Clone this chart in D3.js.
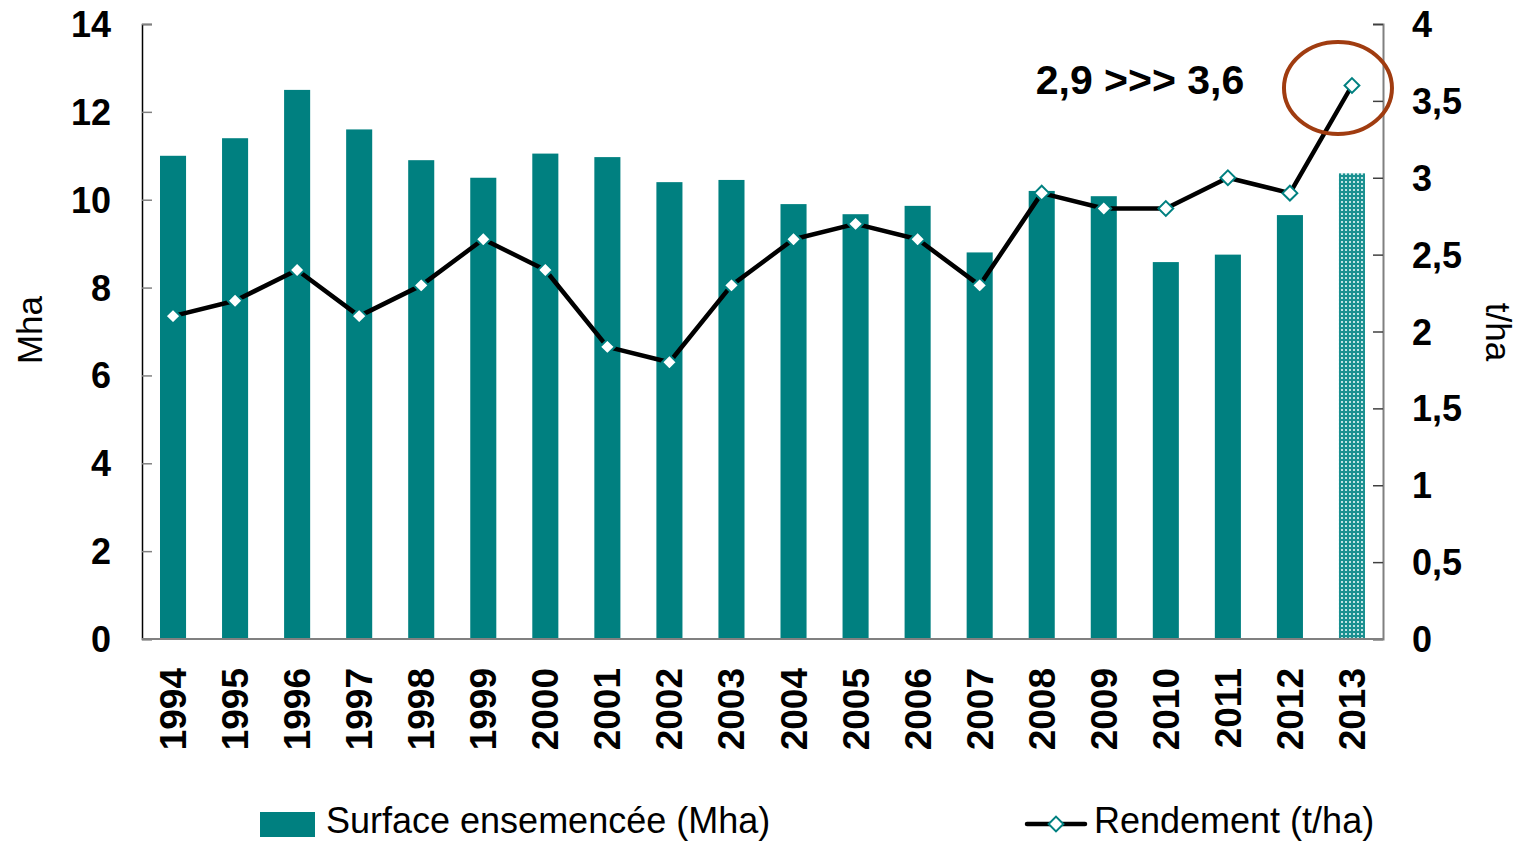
<!DOCTYPE html>
<html lang="fr">
<head>
<meta charset="UTF-8">
<title>Surface et rendement</title>
<script src="https://cdn.jsdelivr.net/npm/d3@7"></script>
<style>
  body { margin: 0; background: #fff; }
  text { font-family: "Liberation Sans", Arial, sans-serif; }
</style>
</head>
<body>
<svg width="1519" height="842"></svg>
<script>
    const years = ["1994","1995","1996","1997","1998","1999","2000","2001","2002","2003",
                   "2004","2005","2006","2007","2008","2009","2010","2011","2012","2013"];
    const surface = [11.0, 11.4, 12.5, 11.6, 10.9, 10.5, 11.05, 10.97, 10.4, 10.45,
                     9.9, 9.67, 9.86, 8.8, 10.2, 10.08, 8.58, 8.75, 9.65, 10.6];
    const rendement = [2.1, 2.2, 2.4, 2.1, 2.3, 2.6, 2.4, 1.9, 1.8, 2.3,
                       2.6, 2.7, 2.6, 2.3, 2.9, 2.8, 2.8, 3.0, 2.9, 3.6];
    const leftTicks = [0, 2, 4, 6, 8, 10, 12, 14];
    const rightTicks = [0, 0.5, 1, 1.5, 2, 2.5, 3, 3.5, 4];
    const annotation = "2,9 >>> 3,6";

    const teal = "#008080";
    const svg = d3.select("svg");
    const plot = {left: 142, right: 1383, top: 24, bottom: 639};

    // hatched pattern for the 2013 estimate
    const defs = svg.append("defs");
    const pat = defs.append("pattern").attr("id", "dots")
        .attr("width", 4).attr("height", 4).attr("patternUnits", "userSpaceOnUse");
    pat.append("rect").attr("width", 4).attr("height", 4).attr("fill", "#1a9090");
    pat.append("rect").attr("x", 1).attr("y", 1).attr("width", 2).attr("height", 2).attr("fill", "#bfe3e3");

    const x = d3.scaleBand().domain(years).range([plot.left, plot.right]).paddingInner(0.58).paddingOuter(0.29);
    const yL = d3.scaleLinear().domain([0, 14]).range([plot.bottom, plot.top]);
    const yR = d3.scaleLinear().domain([0, 4]).range([plot.bottom, plot.top]);

    // bars
    svg.append("g").selectAll("rect")
        .data(years)
        .enter()
        .append("rect")
        .attr("x", d => x(d))
        .attr("width", x.bandwidth())
        .attr("y", (d, i) => yL(surface[i]))
        .attr("height", (d, i) => yL(0) - yL(surface[i]))
        .attr("fill", (d, i) => d === "2013" ? "url(#dots)" : teal);

    // left axis
    const fmt = d => String(d).replace(".", ",");
    const axL = svg.append("g").attr("transform", `translate(${plot.left},0)`)
        .call(d3.axisRight(yL).tickValues(leftTicks).tickSize(10).tickFormat(""));
    axL.select(".domain").attr("stroke", "#000").attr("stroke-width", 1.5);
    axL.selectAll(".tick line").attr("stroke", "#808080").attr("stroke-width", 1.5);
    svg.append("g").selectAll("text").data(leftTicks).enter().append("text")
        .attr("x", 111).attr("y", d => yL(d) + 13)
        .attr("text-anchor", "end").attr("font-size", 36).attr("font-weight", "bold")
        .text(fmt);

    // right axis
    const axR = svg.append("g").attr("transform", `translate(${plot.right},0)`)
        .call(d3.axisLeft(yR).tickValues(rightTicks).tickSize(10).tickFormat(""));
    axR.select(".domain").attr("stroke", "#808080").attr("stroke-width", 2);
    axR.selectAll(".tick line").attr("stroke", "#404040").attr("stroke-width", 1.5);
    svg.append("g").selectAll("text").data(rightTicks).enter().append("text")
        .attr("x", 1412).attr("y", d => yR(d) + 13)
        .attr("text-anchor", "start").attr("font-size", 36).attr("font-weight", "bold")
        .text(fmt);

    // bottom axis
    svg.append("line").attr("x1", plot.left).attr("x2", plot.right)
        .attr("y1", plot.bottom).attr("y2", plot.bottom)
        .attr("stroke", "#808080").attr("stroke-width", 2);
    svg.append("g").selectAll("text").data(years).enter().append("text")
        .attr("transform", d => `translate(${x(d) + x.bandwidth() / 2 + 13},668) rotate(-90)`)
        .attr("text-anchor", "end").attr("font-size", 37).attr("font-weight", "bold")
        .text(d => d);

    // axis titles
    svg.append("text").attr("transform", "translate(42,330) rotate(-90)")
        .attr("text-anchor", "middle").attr("font-size", 35).text("Mha");
    svg.append("text").attr("transform", "translate(1486,332) rotate(90)")
        .attr("text-anchor", "middle").attr("font-size", 35).text("t/ha");

    // yield line
    const cx = d => x(d) + x.bandwidth() / 2;
    const line = d3.line().x(d => cx(d)).y((d, i) => yR(rendement[i]));
    svg.append("path").datum(years).attr("d", line)
        .attr("fill", "none").attr("stroke", "#000").attr("stroke-width", 4.5)
        .attr("stroke-linejoin", "round");
    const diamond = d3.symbol().type(d3.symbolDiamond2).size(140);
    svg.append("g").selectAll("path").data(years).enter().append("path")
        .attr("d", diamond)
        .attr("transform", (d, i) => `translate(${cx(d)},${yR(rendement[i])})`)
        .attr("fill", "#fff").attr("stroke", teal).attr("stroke-width", 2);

    // annotation
    svg.append("text").attr("x", 1140).attr("y", 94).attr("text-anchor", "middle")
        .attr("font-size", 41).attr("font-weight", "bold").text(annotation);
    svg.append("ellipse").attr("cx", cx("2013") - 14).attr("cy", 88).attr("rx", 54).attr("ry", 46)
        .attr("fill", "none").attr("stroke", "#A03C10").attr("stroke-width", 4);

    // legend
    svg.append("rect").attr("x", 260).attr("y", 812).attr("width", 55).attr("height", 25).attr("fill", teal);
    svg.append("text").attr("x", 326).attr("y", 833).attr("font-size", 36).text("Surface ensemencée (Mha)");
    svg.append("line").attr("x1", 1027).attr("x2", 1085).attr("y1", 824).attr("y2", 824)
        .attr("stroke", "#000").attr("stroke-width", 4.5).attr("stroke-linecap", "round");
    svg.append("path").attr("d", diamond).attr("transform", "translate(1056,824)")
        .attr("fill", "#fff").attr("stroke", teal).attr("stroke-width", 2);
    svg.append("text").attr("x", 1094).attr("y", 833).attr("font-size", 36).text("Rendement (t/ha)");
</script>
</body>
</html>
